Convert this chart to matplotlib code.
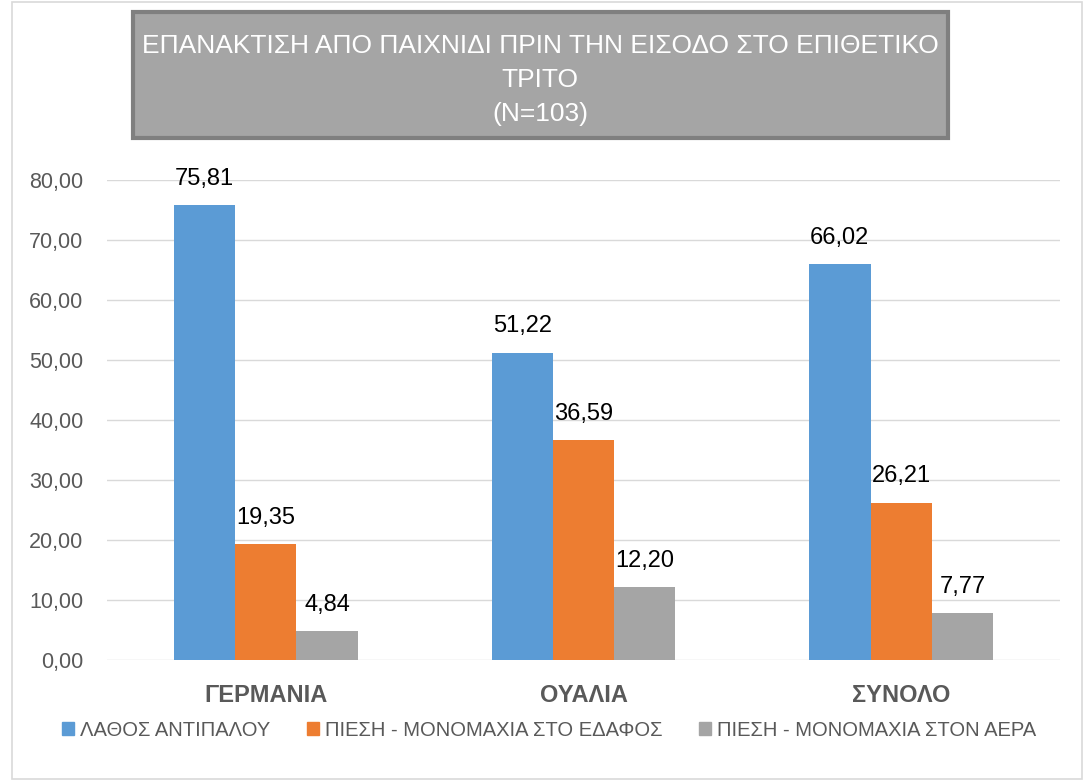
import numpy as np
import matplotlib.pyplot as plt
from matplotlib.patches import Rectangle, Patch

plt.rcParams['font.family'] = ['Liberation Sans', 'DejaVu Sans']

categories = ['ΓΕΡΜΑΝΙΑ', 'ΟΥΑΛΙΑ', 'ΣΥΝΟΛΟ']
series_names = ['ΛΑΘΟΣ ΑΝΤΙΠΑΛΟΥ', 'ΠΙΕΣΗ - ΜΟΝΟΜΑΧΙΑ ΣΤΟ ΕΔΑΦΟΣ', 'ΠΙΕΣΗ - ΜΟΝΟΜΑΧΙΑ ΣΤΟΝ ΑΕΡΑ']
lathos = [75.81, 51.22, 66.02]
edafos = [19.35, 36.59, 26.21]
aeras = [4.84, 12.20, 7.77]
colors = ['#5B9BD5', '#ED7D31', '#A5A5A5']
yticks = [0, 10, 20, 30, 40, 50, 60, 70, 80]

fig = plt.figure(figsize=(10.83, 7.81), dpi=100)
ax = fig.add_axes([107 / 1083, 1 - 660 / 781, 953 / 1083, 480 / 781])

x = np.arange(len(categories))
w = 0.193
for i, (vals, c) in enumerate(zip([lathos, edafos, aeras], colors)):
    bars = ax.bar(x + (i - 1) * w, vals, w, color=c, zorder=3)
    for b, v in zip(bars, vals):
        ax.annotate(f'{v:.2f}'.replace('.', ','), (b.get_x() + b.get_width() / 2, v),
                    xytext=(0, 11), textcoords='offset points', ha='center', va='bottom',
                    fontsize=17, color='black')

ax.set_xlim(-0.5, 2.5)
ax.set_ylim(0, 80)
ax.set_yticks(yticks)
ax.set_yticklabels([f'{t:.2f}'.replace('.', ',') for t in yticks], fontsize=15.5, color='#595959')
ax.set_xticks(x)
ax.set_xticklabels(categories, fontsize=17, fontweight='bold', color='#595959')
ax.tick_params(length=0)
ax.tick_params(axis='x', pad=17)
ax.tick_params(axis='y', pad=17)
ax.grid(axis='y', color='#D9D9D9', linewidth=1, zorder=0)
for s in ax.spines.values():
    s.set_visible(False)

# title box
fig.patches.append(Rectangle((133 / 1083, 1 - 138 / 781), 815 / 1083, 126 / 781,
                             transform=fig.transFigure, facecolor='#A5A5A5',
                             edgecolor='#7F7F7F', linewidth=3, zorder=0))
fig.text(540 / 1083, 1 - 80 / 781, 'ΕΠΑΝΑΚΤΙΣΗ ΑΠΟ ΠΑΙΧΝΙΔΙ ΠΡΙΝ ΤΗΝ ΕΙΣΟΔΟ ΣΤΟ ΕΠΙΘΕΤΙΚΟ\nΤΡΙΤΟ\n(N=103)',
         ha='center', va='center', color='white', fontsize=19, linespacing=1.55)

# chart border
fig.patches.append(Rectangle((12 / 1083, 2 / 781), 1070 / 1083, 777 / 781,
                             transform=fig.transFigure, facecolor='none',
                             edgecolor='#D9D9D9', linewidth=1.2))

handles = [Patch(color=c) for c in colors]
fig.legend(handles, series_names, loc='center', bbox_to_anchor=(549 / 1083, 1 - 730 / 781),
           ncol=3, frameon=False, fontsize=14.5, labelcolor='#595959',
           handlelength=0.6, handleheight=0.6, handletextpad=0.3, columnspacing=1.8)

fig.savefig('out.png', dpi=100)
